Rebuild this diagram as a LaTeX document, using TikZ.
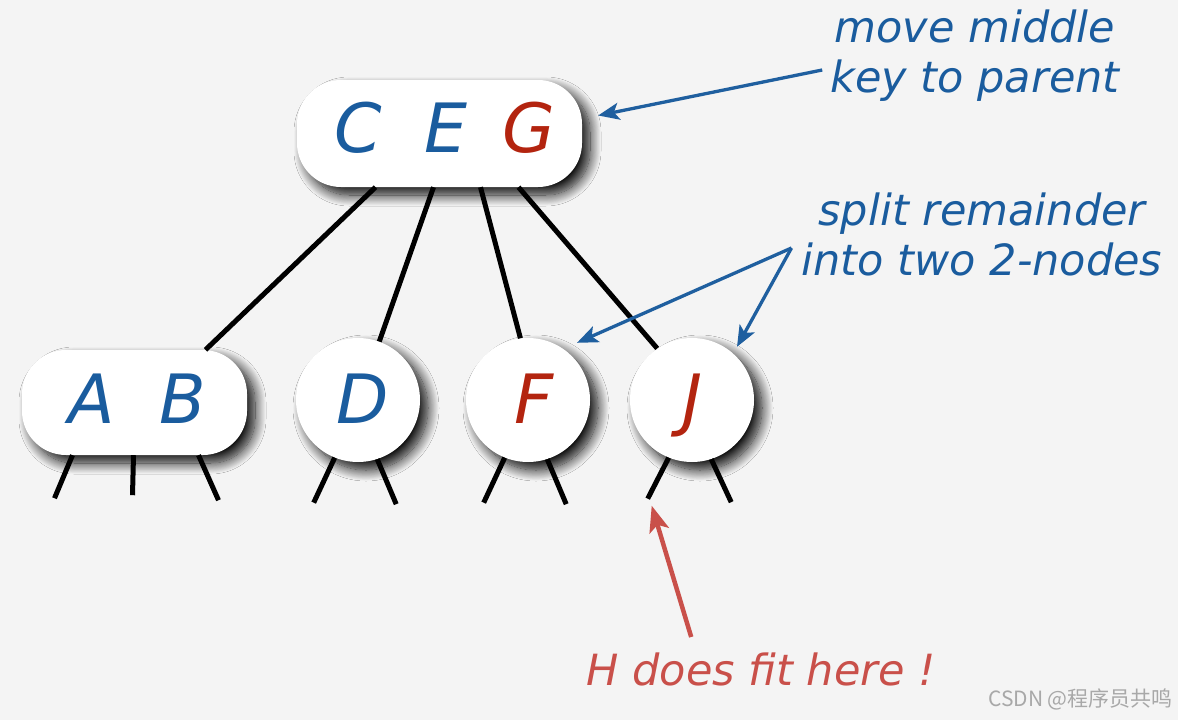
\documentclass[tikz,border=0pt]{standalone}
\usepackage{fontspec}
\setmainfont{DejaVu Sans}[ItalicFont={DejaVu Sans Oblique}]
\newfontfamily\cjk{Noto Sans CJK SC}
\usetikzlibrary{shadows.blur,arrows.meta,calc}
\definecolor{bg}{HTML}{F4F4F4}
\definecolor{keyblue}{HTML}{1A5C9E}
\definecolor{keyred}{HTML}{B3240F}
\definecolor{notered}{HTML}{C9504A}
\definecolor{arrowblue}{HTML}{1F5F9F}
\definecolor{wmgray}{HTML}{A8A8A8}
\begin{document}
\begin{tikzpicture}[x=1pt,y=-1pt,
  keybox/.style={fill=white, draw=none, inner sep=0pt,
    blur shadow={shadow xshift=8pt, shadow yshift=-8pt, shadow blur radius=11pt, shadow blur steps=16, shadow opacity=95}},
  threebox/.style={keybox, rectangle, rounded corners=44pt, minimum width=285pt, minimum height=107pt},
  twobox/.style={keybox, circle, minimum size=124pt},
  letter/.style={font=\fontsize{68}{80}\selectfont\itshape, inner sep=0pt, anchor=base},
  link/.style={line width=5pt, black},
  note/.style={font=\fontsize{43}{50}\selectfont\itshape, text=keyblue, inner sep=0pt, anchor=base},
  bluearrow/.style={line width=3.3pt, arrowblue, -{Stealth[length=21pt,width=17pt,inset=5pt]}},
  redarrow/.style={line width=4.5pt, notered, -{Stealth[length=26pt,width=20pt,inset=6pt]}}
]
\useasboundingbox (0,0) rectangle (1178,720);
\fill[bg] (0,0) rectangle (1178,720);

% nodes
\node[threebox] (ceg) at (439.5,133.5) {};
\node[threebox, minimum width=225pt, minimum height=105pt] (ab) at (134.5,402.5) {};
\node[twobox] (d) at (358,400) {};
\node[twobox] (f) at (528,400) {};
\node[twobox] (j) at (692,400) {};

% keys
\node[letter, text=keyblue] (lC) at (358,152) {C};
\node[letter, text=keyblue] (lE) at (446,152) {E};
\node[letter, text=keyred]  (lG) at (529,152) {G};
\node[letter, text=keyblue] (lA) at (92,423) {A};
\node[letter, text=keyblue] (lB) at (183,423) {B};
\node[letter, text=keyblue] (lD) at (363,423) {D};
\node[letter, text=keyred]  (lF) at (534,423) {F};
\node[letter, text=keyred]  (lJ) at (693,423) {J};

% links
\draw[link] ([xshift=-64pt]ceg.south) -- ([xshift=71pt]ab.north);
\draw[link] ([xshift=-6pt]ceg.south) -- (d.70);
\draw[link] ([xshift=41pt]ceg.south) -- (f.97);
\draw[link] ([xshift=79pt]ceg.south) -- (j.124);

% stubs
\draw[link] ([xshift=-62pt]ab.south) -- ++(-18,43);
\draw[link] ([xshift=-1pt]ab.south) -- ++(-1,40);
\draw[link] ([xshift=64pt]ab.south) -- ++(20,45);
\draw[link] (d.-112) -- ++(-21,45);
\draw[link] (d.-72) -- ++(19,45);
\draw[link] (f.-112) -- ++(-21,45);
\draw[link] (f.-72) -- ++(19,45);
\draw[link] (j.-112) -- ++(-21,41);
\coordinate (jstub) at ($(j.-112)+(-21,41)$);
\draw[link] (j.-72) -- ++(20,43);

% notes
\node[note] (mm1) at (975,42) {move middle};
\node[note] (mm2) at (975,92) {key to parent};
\node[note] (sp1) at (982,225) {split remainder};
\node[note] (sp2) at (982,275) {into two 2-nodes};
\node[note, text=notered] (hn) at (761,685) {H does fit here !};

\draw[bluearrow] ($(mm2.base west)+(-8,-22)$) -- ($(ceg.east)+(16,-18)$);
\coordinate (spfrom) at ($(sp2.base west)+(-10,-27)$);
\draw[bluearrow] (spfrom) -- ($(f.north)+(49,5)$);
\draw[bluearrow] (spfrom) -- ($(j.north)+(45,9)$);
\draw[redarrow] ($(hn.base west)+(105,-48)$) -- ($(jstub)+(4,7)$);

% watermark
\node[font=\cjk\fontsize{21}{24}\selectfont, text=wmgray, inner sep=0pt, anchor=base east] (wm) at (1173,706) {CSDN @程序员共鸣};
\end{tikzpicture}
\end{document}
